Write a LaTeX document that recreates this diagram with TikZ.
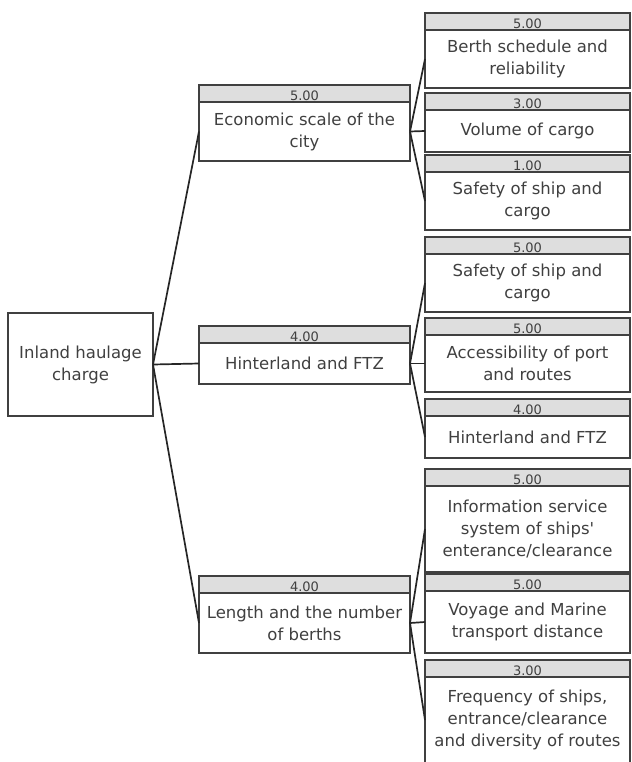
\documentclass[tikz,border=0pt]{standalone}
\usepackage{fontspec}
\setmainfont{DejaVu Sans}
\usetikzlibrary{positioning}
\definecolor{headgray}{HTML}{DEDEDE}
\definecolor{textgray}{HTML}{404040}
\tikzset{
  bodybox/.style={draw=black!75, line width=1.2pt, fill=white, align=center, inner sep=0pt, outer sep=0pt, text=textgray, font=\fontsize{16.5}{22}\selectfont},
  headbox/.style={draw=black!75, line width=1.2pt, fill=headgray, inner sep=0pt, outer sep=0pt, minimum height=17pt, text height=14pt, text depth=0pt, text=textgray, font=\fontsize{13}{13}\selectfont},
  midbox/.style={bodybox, minimum width=211pt},
  leafbox/.style={bodybox, minimum width=205pt},
  link/.style={line width=1.7pt, black!85}
}

\begin{document}
\begin{tikzpicture}[x=1pt,y=-1pt]
\useasboundingbox (0,0) rectangle (631,762);

% goal
\node[bodybox, minimum width=145pt, minimum height=103pt] (root) at (80.5,364.5) {Inland haulage\\charge};

% second level
\node[midbox, minimum height=59pt] (econ) at (304.5,131.5) {Economic scale of the\\city};
\node[headbox, minimum width=211pt, above=0pt of econ] (econ-h) {5.00};
\node[midbox, minimum height=41pt] (hint) at (304.5,363.5) {Hinterland and FTZ};
\node[headbox, minimum width=211pt, above=0pt of hint] (hint-h) {4.00};
\node[midbox, minimum height=60pt] (berths) at (304.5,623) {Length and the number\\of berths};
\node[headbox, minimum width=211pt, above=0pt of berths] (berths-h) {4.00};

% third level
\node[leafbox, minimum height=58pt] (sched) at (527.5,59) {Berth schedule and\\reliability};
\node[headbox, minimum width=205pt, above=0pt of sched] (sched-h) {5.00};
\node[leafbox, minimum height=42pt] (volume) at (527.5,131) {Volume of cargo};
\node[headbox, minimum width=205pt, above=0pt of volume] (volume-h) {3.00};
\node[leafbox, minimum height=58pt] (safety1) at (527.5,201) {Safety of ship and\\cargo};
\node[headbox, minimum width=205pt, above=0pt of safety1] (safety1-h) {1.00};

\node[leafbox, minimum height=58pt] (safety2) at (527.5,283) {Safety of ship and\\cargo};
\node[headbox, minimum width=205pt, above=0pt of safety2] (safety2-h) {5.00};
\node[leafbox, minimum height=57pt] (access) at (527.5,363.5) {Accessibility of port\\and routes};
\node[headbox, minimum width=205pt, above=0pt of access] (access-h) {5.00};
\node[leafbox, minimum height=42pt] (hinter) at (527.5,437) {Hinterland and FTZ};
\node[headbox, minimum width=205pt, above=0pt of hinter] (hinter-h) {4.00};

\node[leafbox, minimum height=86pt] (info) at (527.5,529) {Information service\\system of ships\textquotesingle\\enterance/clearance};
\node[headbox, minimum width=205pt, above=0pt of info] (info-h) {5.00};
\node[leafbox, minimum height=62pt] (voyage) at (527.5,622) {Voyage and Marine\\transport distance};
\node[headbox, minimum width=205pt, above=0pt of voyage] (voyage-h) {5.00};
\node[leafbox, minimum height=86pt] (freq) at (527.5,720) {Frequency of ships,\\entrance/clearance\\and diversity of routes};
\node[headbox, minimum width=205pt, above=0pt of freq] (freq-h) {3.00};

% connectors
\foreach \kid in {econ,hint,berths}
  \draw[link] (root.east) -- (\kid.west);
\foreach \kid in {sched,volume,safety1}
  \draw[link] (econ.east) -- (\kid.west);
\foreach \kid in {safety2,access,hinter}
  \draw[link] (hint.east) -- (\kid.west);
\foreach \kid in {info,voyage,freq}
  \draw[link] (berths.east) -- (\kid.west);
\end{tikzpicture}
\end{document}
